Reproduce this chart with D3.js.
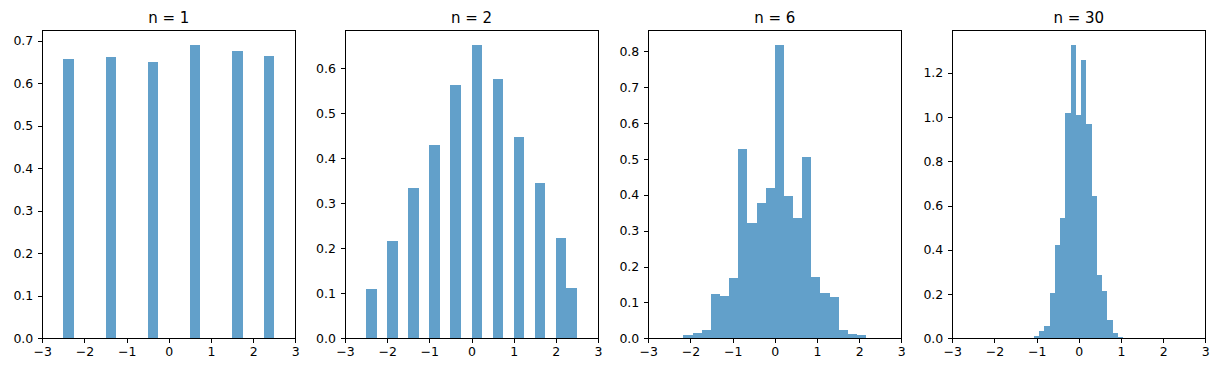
<!DOCTYPE html>
<html>
<head>
<meta charset="utf-8">
<script src="https://cdn.jsdelivr.net/npm/d3@7"></script>
<style>
  body { margin: 0; background: #fff; }
  svg { display: block; font-family: "DejaVu Sans", sans-serif; }
  .axis path, .axis line { stroke: #000; stroke-width: 1; shape-rendering: crispEdges; }
  .axis text { fill: #000; font-family: "DejaVu Sans", sans-serif; font-size: 12.5px; }
  .title { font-size: 15px; fill: #000; text-anchor: middle; }
</style>
</head>
<body>
<svg id="viz-svg" width="1218" height="372"></svg>
<script>
// sample sizes (one panel each)
var sampleSizes = [1, 2, 6, 30]

// histogram bins: first edge + bin width, then the density of each bin
var binStart = [-2.5, -2.5, -13/6, -1.064]
var binWidth = [0.25, 0.25, 13/60, 0.1243]

var density1 = [0.657, 0, 0, 0, 0.662, 0, 0, 0, 0.651, 0, 0, 0, 0.691, 0, 0, 0, 0.675, 0, 0, 0.665]
var density2 = [0.110, 0, 0.216, 0, 0.334, 0, 0.430, 0, 0.563, 0, 0.652, 0, 0.576, 0, 0.447, 0, 0.345, 0, 0.223, 0.112]
var density6 = [0.009, 0.015, 0.023, 0.124, 0.118, 0.168, 0.528, 0.322, 0.378, 0.420,
                0.819, 0.397, 0.336, 0.506, 0.171, 0.127, 0.115, 0.023, 0.013, 0.009]
var density30 = [0.010, 0.033, 0.056, 0.205, 0.423, 0.545, 1.020, 1.328, 1.011,
                 1.260, 0.971, 0.645, 0.286, 0.216, 0.083, 0.025, 0.008]
var densities = [density1, density2, density6, density30]

// tick labels
var xTicks = [-3, -2, -1, 0, 1, 2, 3]
var yTicks = [
  [0, 0.1, 0.2, 0.3, 0.4, 0.5, 0.6, 0.7],
  [0, 0.1, 0.2, 0.3, 0.4, 0.5, 0.6],
  [0, 0.1, 0.2, 0.3, 0.4, 0.5, 0.6, 0.7, 0.8],
  [0, 0.2, 0.4, 0.6, 0.8, 1.0, 1.2]
]

var svg = d3.select("#viz-svg")
  , panelLeft = [42.3, 345, 648.3, 952.3]
  , panelWidth = 253
  , panelTop = 30
  , panelBottom = 338.3
  , barColor = "rgb(98,160,202)"   // C0 at alpha .7 on white

svg.append("rect").attr("width", 1218).attr("height", 372).style("fill", "#fff")

function styleAxis(a){
  a.select(".domain").remove()
  a.attr("font-size", null).attr("font-family", null)
  a.selectAll("text").style("font-size", "12.5px").style("font-family", "'DejaVu Sans', sans-serif")
}

sampleSizes.forEach(function(n, p){
  var vals = densities[p]
    , bins = vals.map(function(d, i){
        return {x0: binStart[p] + i*binWidth[p], x1: binStart[p] + (i+1)*binWidth[p], y: d}
      })
    , x = d3.scaleLinear().domain([-3, 3]).range([0, panelWidth])
    , y = d3.scaleLinear().domain([0, d3.max(vals)*1.05]).range([panelBottom - panelTop, 0])

  var g = svg.append("g")
    .attr("transform", "translate(" + panelLeft[p] + "," + panelTop + ")")

  g.selectAll(".bar")
    .data(bins.filter(function(d){ return d.y > 0 }))
    .enter().append("rect")
      .attr("class", "bar")
      .attr("x", function(d){ return x(d.x0) })
      .attr("width", function(d){ return x(d.x1) - x(d.x0) })
      .attr("y", function(d){ return y(d.y) })
      .attr("height", function(d){ return y(0) - y(d.y) })
      .style("fill", barColor)
      .style("shape-rendering", "crispEdges")

  // frame (all four spines)
  g.append("rect")
    .attr("width", panelWidth)
    .attr("height", panelBottom - panelTop)
    .style("fill", "none")
    .style("stroke", "#000")
    .style("stroke-width", 1)
    .style("shape-rendering", "crispEdges")

  g.append("g")
    .attr("class", "axis")
    .attr("transform", "translate(0," + (panelBottom - panelTop) + ")")
    .call(d3.axisBottom(x).tickValues(xTicks).tickFormat(d3.format("d")).tickSizeOuter(0).tickSize(4.5).tickPadding(4))
    .call(styleAxis)

  g.append("g")
    .attr("class", "axis")
    .call(d3.axisLeft(y).tickValues(yTicks[p]).tickFormat(d3.format(".1f")).tickSizeOuter(0).tickSize(4.5).tickPadding(4.5))
    .call(styleAxis)

  g.append("text")
    .attr("class", "title")
    .attr("x", panelWidth/2)
    .attr("y", -7.5)
    .text("n = " + n)
})
</script>
</body>
</html>
